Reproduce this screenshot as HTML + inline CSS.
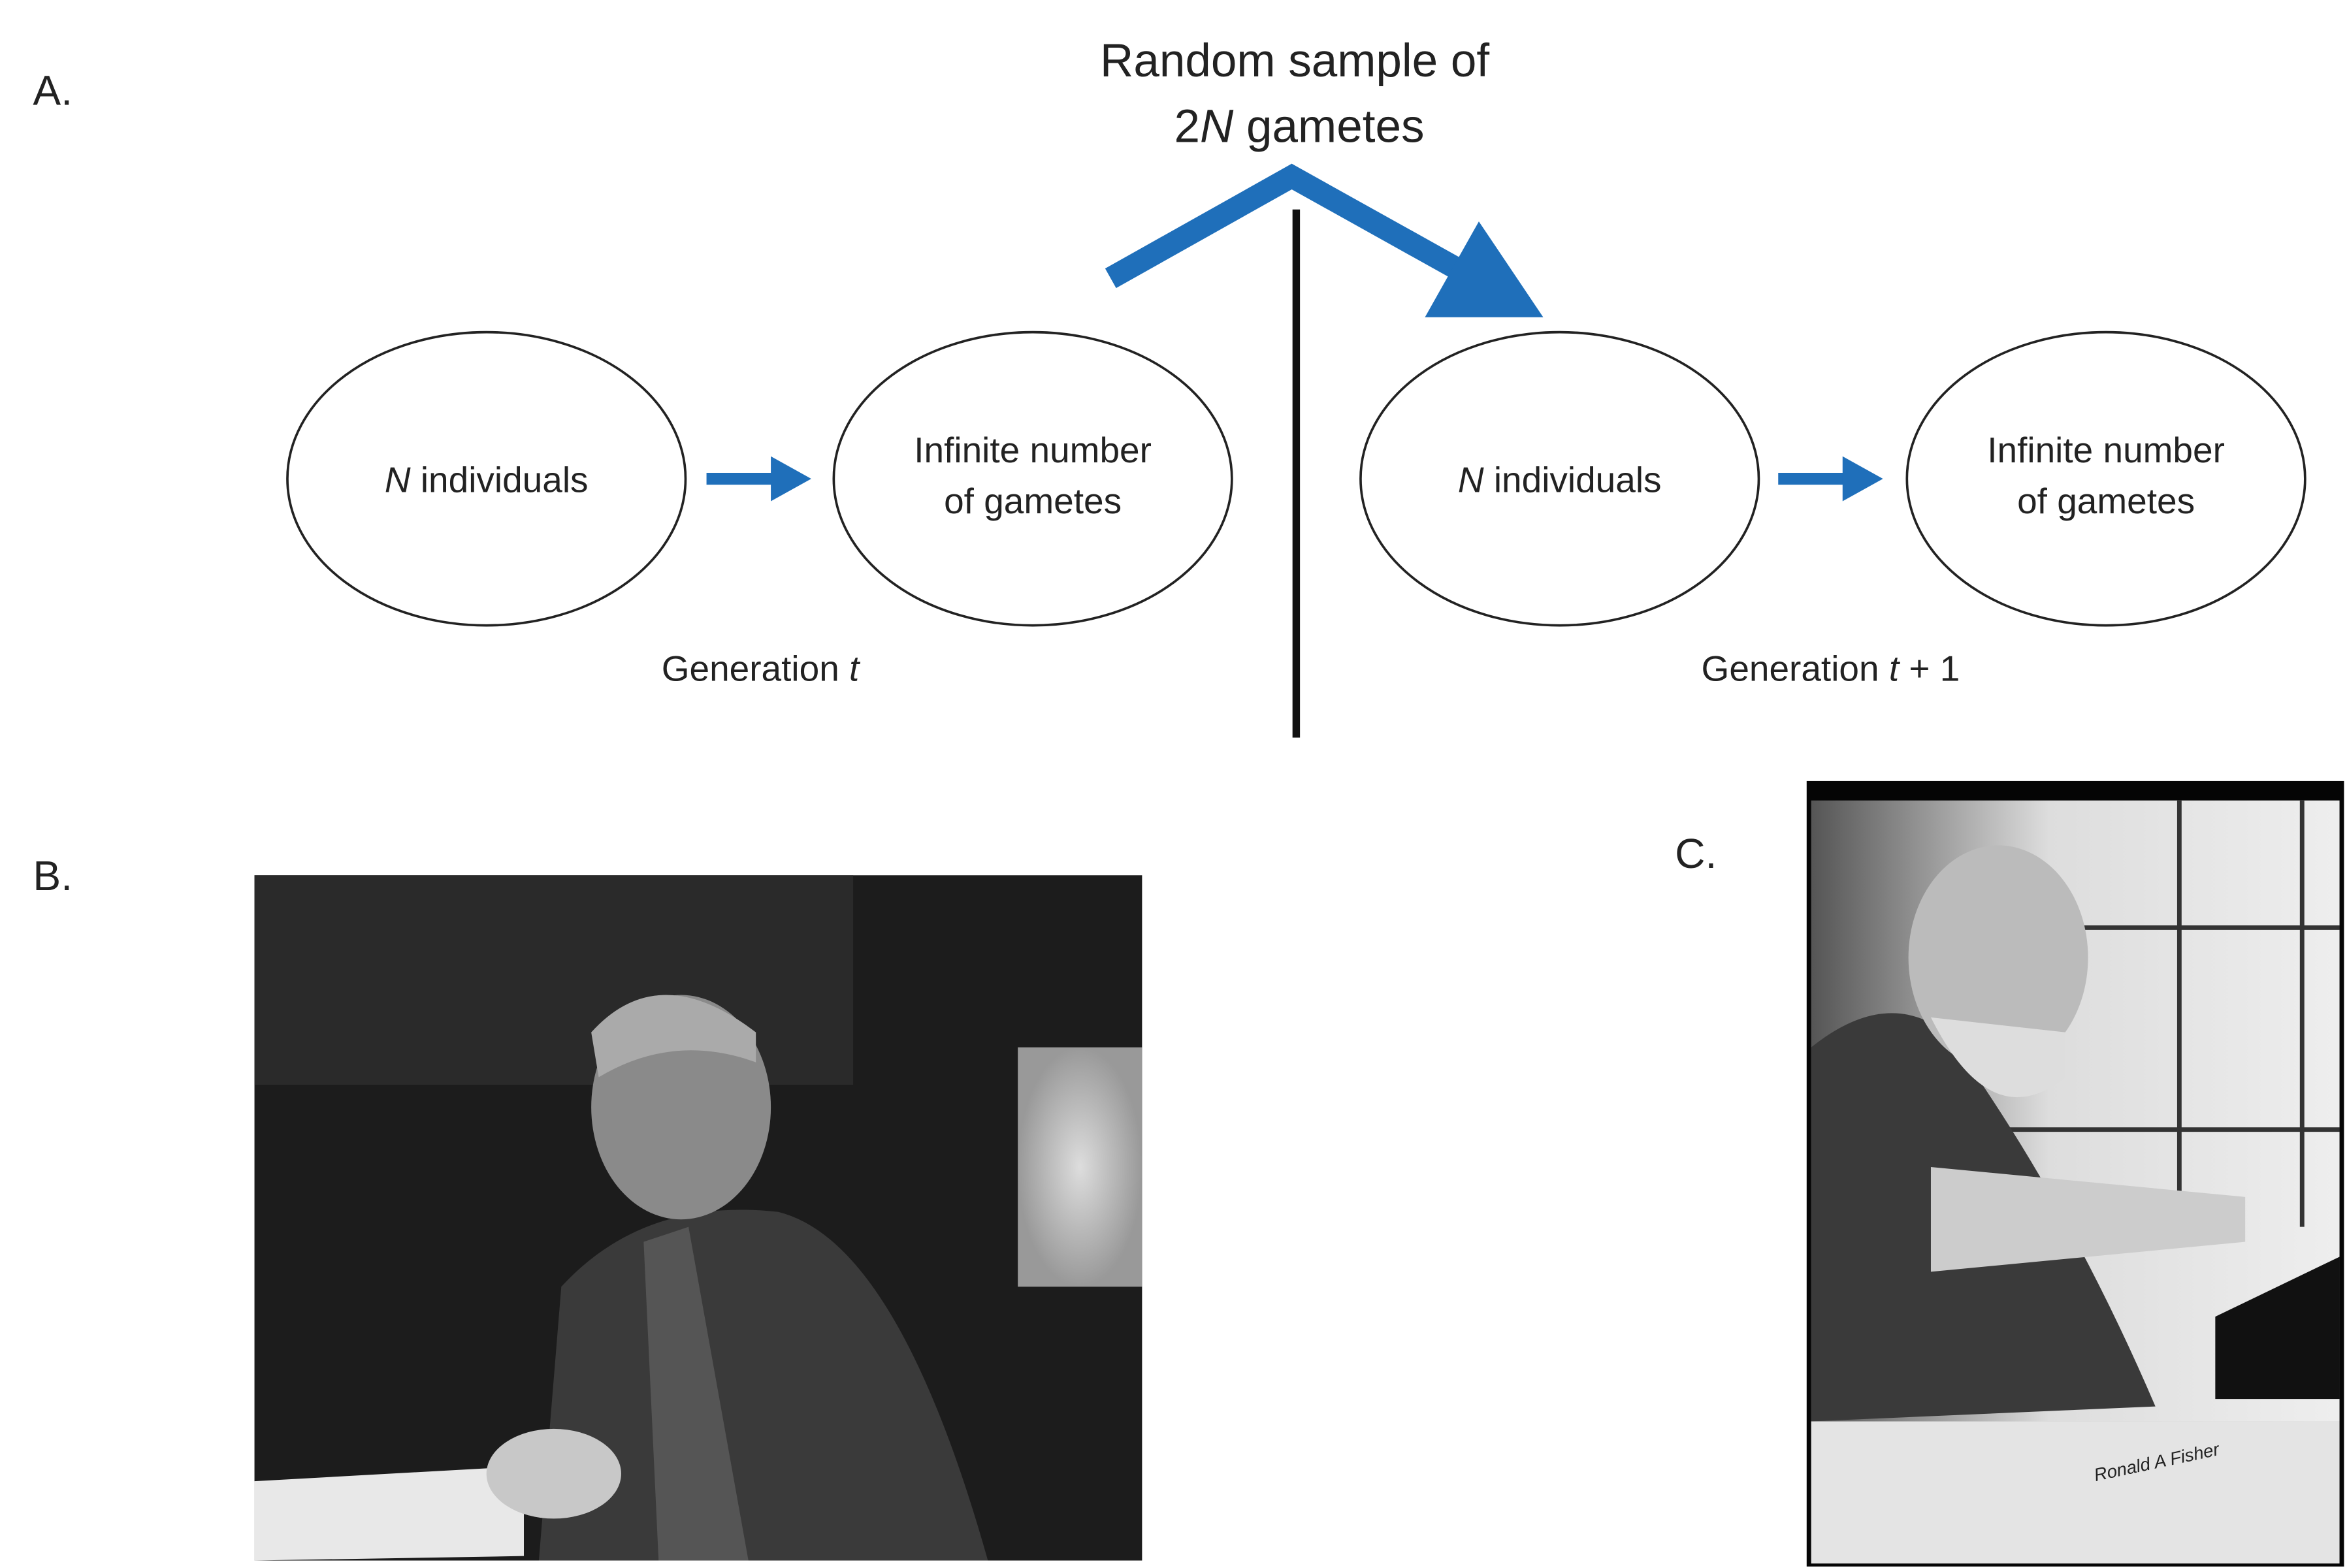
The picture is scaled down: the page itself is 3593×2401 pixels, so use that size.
<!DOCTYPE html>
<html><head><meta charset="utf-8"><style>
html,body{margin:0;padding:0;background:#fff;}
svg{display:block;}
text{font-family:"Liberation Sans",sans-serif;fill:#222;}
</style></head><body>
<svg width="3593" height="2401" viewBox="0 0 1568 1048" preserveAspectRatio="none" xmlns="http://www.w3.org/2000/svg">
<defs>
<radialGradient id="lampB" cx="0.5" cy="0.5" r="0.5"><stop offset="0" stop-color="#ddd"/><stop offset="1" stop-color="#999"/></radialGradient>
<linearGradient id="winC" x1="0" y1="0" x2="1" y2="0"><stop offset="0" stop-color="#555"/><stop offset="0.45" stop-color="#ddd"/><stop offset="1" stop-color="#eee"/></linearGradient>
</defs>
<text x="22" y="70" font-size="28">A.</text>
<text x="865" y="51" font-size="31" text-anchor="middle">Random sample of</text>
<text x="868" y="95" font-size="31" text-anchor="middle">2<tspan font-style="italic">N</tspan> gametes</text>
<polyline points="742,186 863,118 992,190" fill="none" stroke="#1f6fba" stroke-width="15"/>
<polygon points="988,148 1031,212 952,212" fill="#1f6fba"/>
<line x1="866" y1="140" x2="866" y2="493" stroke="#111" stroke-width="5"/>
<g><ellipse cx="325" cy="320" rx="133" ry="98" fill="none" stroke="#222" stroke-width="1.6"/><text x="325" y="329" font-size="24" text-anchor="middle"><tspan font-style="italic">N</tspan> individuals</text></g>
<g><ellipse cx="690" cy="320" rx="133" ry="98" fill="none" stroke="#222" stroke-width="1.6"/><text x="690" y="309" font-size="24" text-anchor="middle">Infinite number</text><text x="690" y="343" font-size="24" text-anchor="middle">of gametes</text></g>
<g><ellipse cx="1042" cy="320" rx="133" ry="98" fill="none" stroke="#222" stroke-width="1.6"/><text x="1042" y="329" font-size="24" text-anchor="middle"><tspan font-style="italic">N</tspan> individuals</text></g>
<g><ellipse cx="1407" cy="320" rx="133" ry="98" fill="none" stroke="#222" stroke-width="1.6"/><text x="1407" y="309" font-size="24" text-anchor="middle">Infinite number</text><text x="1407" y="343" font-size="24" text-anchor="middle">of gametes</text></g>
<g><line x1="472" y1="320" x2="520" y2="320" stroke="#1f6fba" stroke-width="8"/><polygon points="515,305 542,320 515,335" fill="#1f6fba"/></g>
<g><line x1="1188" y1="320" x2="1236" y2="320" stroke="#1f6fba" stroke-width="8"/><polygon points="1231,305 1258,320 1231,335" fill="#1f6fba"/></g>
<text x="508" y="455" font-size="24" text-anchor="middle">Generation <tspan font-style="italic">t</tspan></text>
<text x="1223" y="455" font-size="24" text-anchor="middle">Generation <tspan font-style="italic">t</tspan> + 1</text>
<text x="22" y="595" font-size="28">B.</text>
<text x="1119" y="580" font-size="28">C.</text>
<g>
<rect x="170" y="585" width="593" height="458" fill="#1c1c1c"/>
<rect x="170" y="585" width="400" height="140" fill="#2a2a2a"/>
<rect x="680" y="700" width="83" height="160" fill="url(#lampB)"/>
<path d="M360,1043 L375,860 Q430,800 520,810 Q600,830 660,1043 Z" fill="#3a3a3a"/>
<ellipse cx="455" cy="740" rx="60" ry="75" fill="#8a8a8a"/>
<path d="M395,690 Q440,640 505,690 L505,710 Q450,690 400,720 Z" fill="#aaa"/>
<path d="M430,830 L460,820 L500,1043 L440,1043 Z" fill="#555"/>
<path d="M170,990 L350,980 L350,1040 L170,1043 Z" fill="#e8e8e8"/>
<ellipse cx="370" cy="985" rx="45" ry="30" fill="#c8c8c8"/>
</g>
<g>
<rect x="1207" y="522" width="359" height="525" fill="#050505"/>
<rect x="1210" y="535" width="353" height="415" fill="url(#winC)"/>
<g stroke="#333" stroke-width="3"><line x1="1456" y1="535" x2="1456" y2="820"/><line x1="1310" y1="620" x2="1563" y2="620"/><line x1="1310" y1="755" x2="1563" y2="755"/><line x1="1538" y1="535" x2="1538" y2="820"/></g>
<path d="M1210,700 Q1260,660 1300,690 Q1380,800 1440,940 L1210,950 Z" fill="#3a3a3a"/>
<ellipse cx="1335" cy="640" rx="60" ry="75" fill="#bbb"/>
<path d="M1290,680 Q1330,760 1380,720 L1380,690 Z" fill="#ddd"/>
<path d="M1290,780 L1500,800 L1500,830 L1290,850 Z" fill="#ccc"/>
<path d="M1480,880 L1563,840 L1563,935 L1480,935 Z" fill="#111"/>
<rect x="1210" y="950" width="353" height="95" fill="#e4e4e4"/>
<text x="1400" y="990" font-size="12" fill="#555" font-style="italic" transform="rotate(-12 1400 990)">Ronald A Fisher</text>
</g>
</svg>
</body></html>
